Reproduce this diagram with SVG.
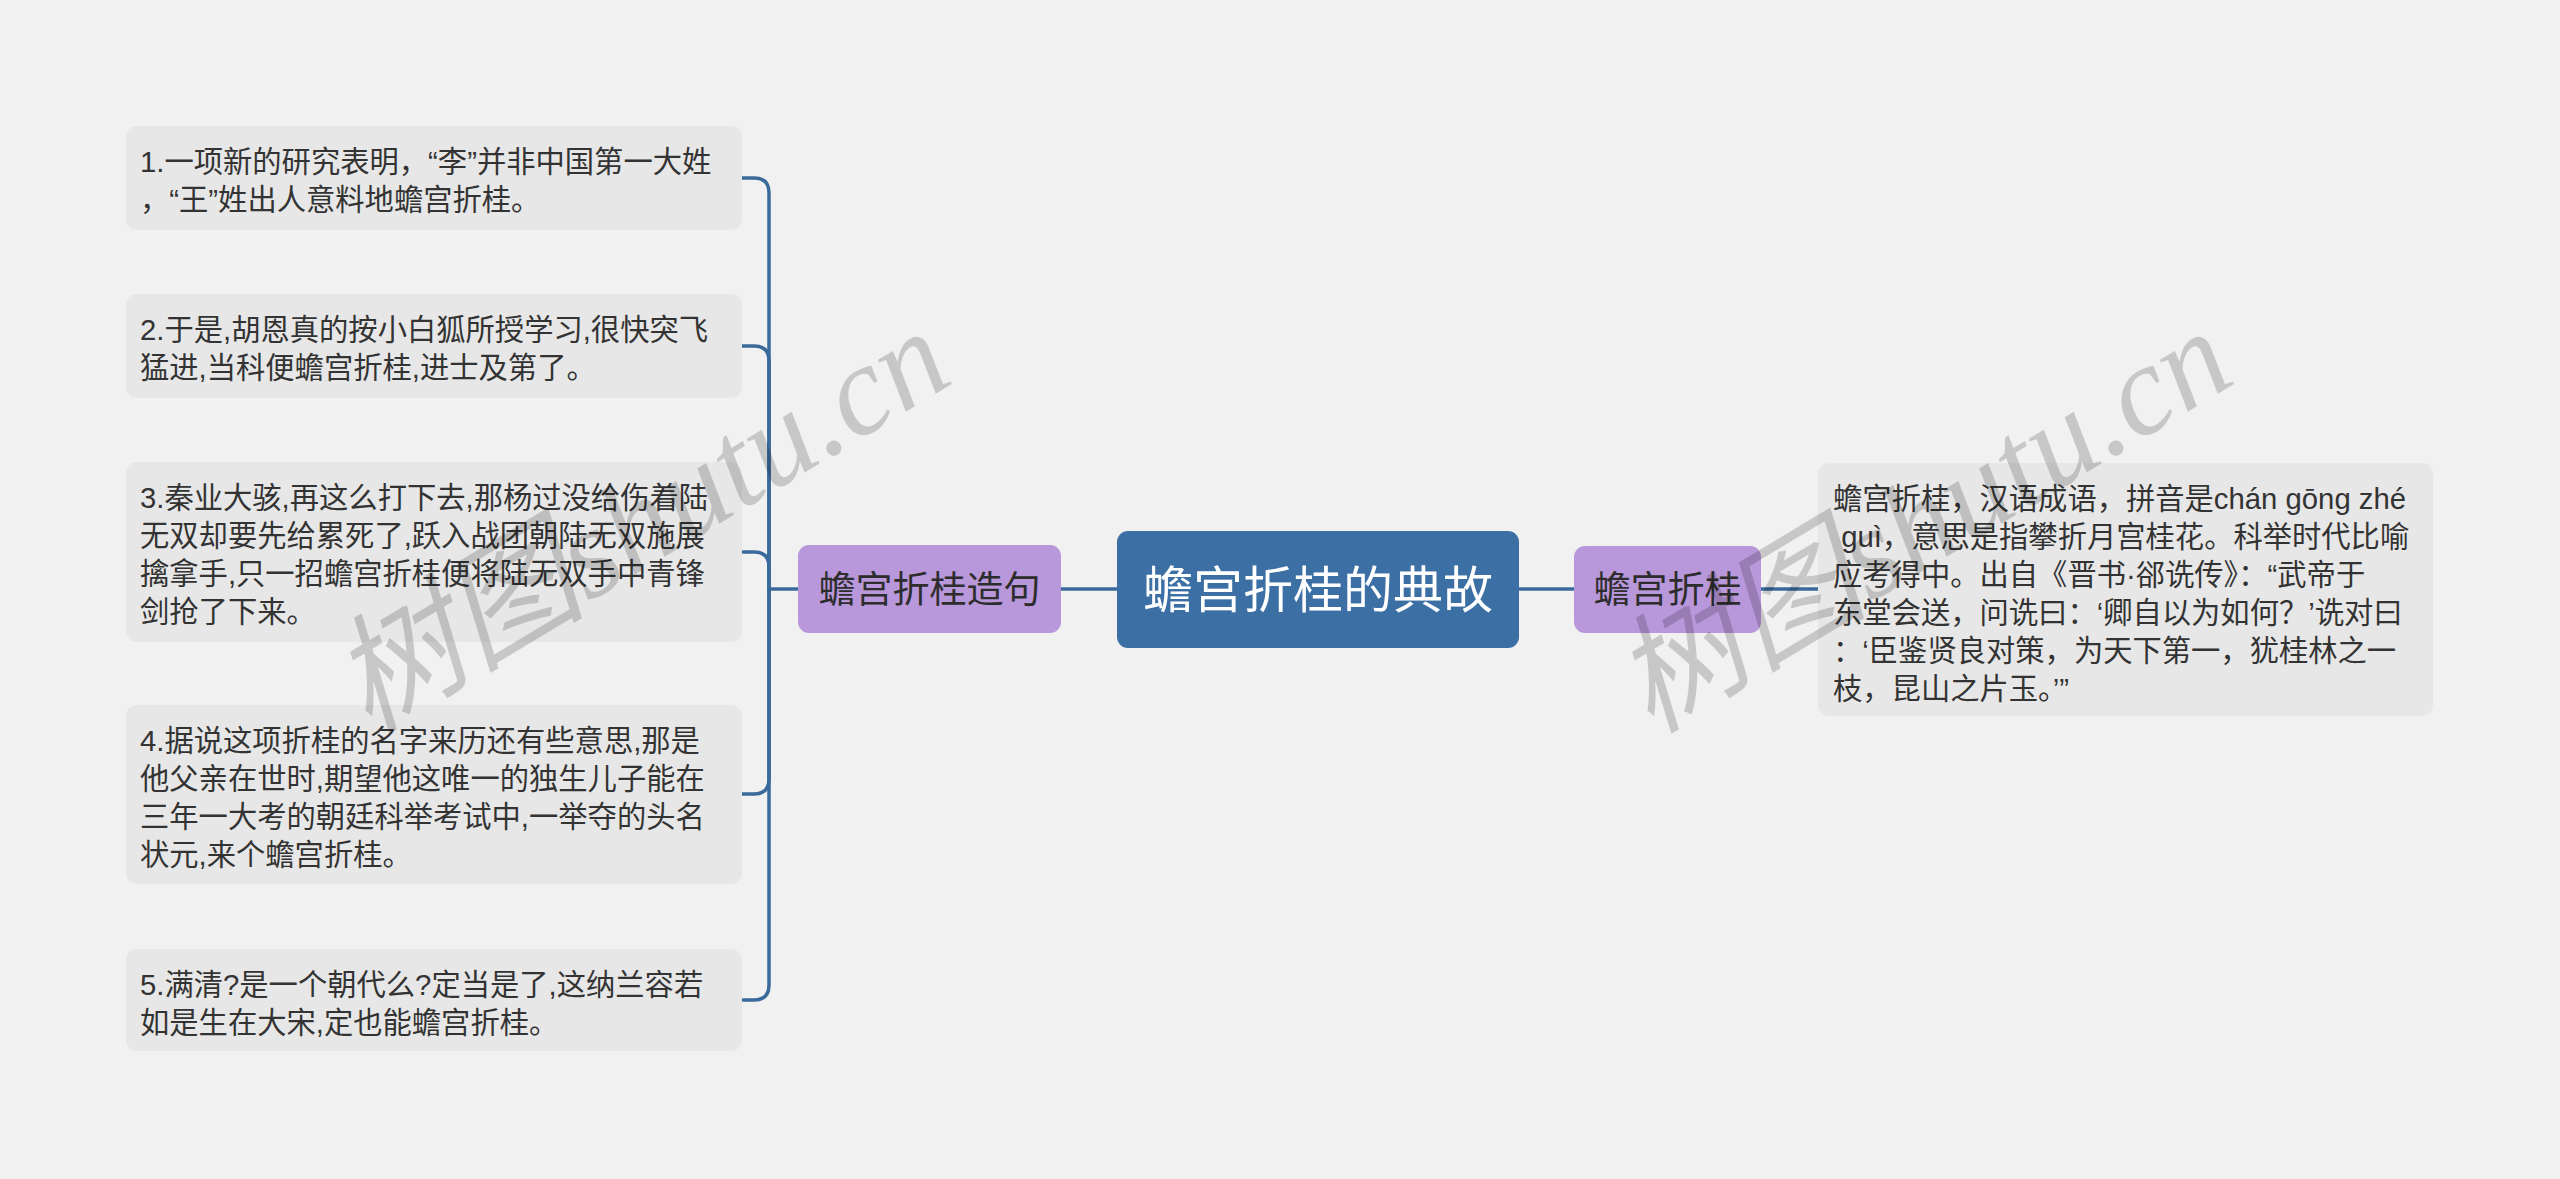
<svg xmlns="http://www.w3.org/2000/svg" width="2560" height="1179" viewBox="0 0 2560 1179">
<style>
.leaf{fill:#e7e7e7}
.lt{font-family:"Liberation Sans","Noto Sans CJK SC",sans-serif;font-size:29.3px;fill:#333}
.sub{fill:#b897da}
.st{font-family:"Liberation Sans","Noto Sans CJK SC",sans-serif;font-size:37px;fill:#2d2d2d;text-anchor:middle}
.ct{font-family:"Liberation Sans","Noto Sans CJK SC",sans-serif;font-size:50px;fill:#ffffff;text-anchor:middle}
.con{fill:none;stroke:#3a6a9c;stroke-width:3.5}
.wm{font-family:"Liberation Serif","Noto Sans CJK SC",serif;font-style:italic;font-size:128px;fill:#000;opacity:0.17;text-anchor:middle}
</style>
<rect x="0" y="0" width="2560" height="1179" fill="#f1f1f1"/>
<g id="connectors">
<path class="con" d="M798 589H769"/>
<path class="con" d="M742 178H754Q769 178 769 193V589"/>
<path class="con" d="M742 346H754Q769 346 769 361V589"/>
<path class="con" d="M742 552H754Q769 552 769 567V589"/>
<path class="con" d="M742 794H754Q769 794 769 779V589"/>
<path class="con" d="M742 1000H754Q769 1000 769 985V589"/>
<path class="con" d="M1061 589H1117"/>
<path class="con" d="M1519 589H1574"/>
<path class="con" d="M1761 589H1818"/>
</g>
<g id="center">
<rect x="1117" y="531" width="402" height="117" rx="11" fill="#3c70a4"/>
<text class="ct" x="1318" y="608">蟾宫折桂的典故</text>
</g>
<g id="sub-left">
<rect class="sub" x="798" y="545" width="263" height="88" rx="11"/>
<text class="st" x="929.5" y="603">蟾宫折桂造句</text>
</g>
<g id="sub-right">
<rect class="sub" x="1574" y="546" width="187" height="87" rx="11"/>
<text class="st" x="1667.5" y="603">蟾宫折桂</text>
</g>
<g id="leaf1">
<rect class="leaf" x="126" y="126" width="616" height="104" rx="11"/>
<text class="lt" x="140"><tspan x="140" y="172">1.一项新的研究表明，“李”并非中国第一大姓</tspan><tspan x="140" y="210">，“王”姓出人意料地蟾宫折桂。</tspan></text>
</g>
<g id="leaf2">
<rect class="leaf" x="126" y="294" width="616" height="104" rx="11"/>
<text class="lt" x="140"><tspan x="140" y="340">2.于是,胡恩真的按小白狐所授学习,很快突飞</tspan><tspan x="140" y="378">猛进,当科便蟾宫折桂,进士及第了。</tspan></text>
</g>
<g id="leaf3">
<rect class="leaf" x="126" y="462" width="616" height="180" rx="11"/>
<text class="lt" x="140"><tspan x="140" y="508">3.秦业大骇,再这么打下去,那杨过没给伤着陆</tspan><tspan x="140" y="546">无双却要先给累死了,跃入战团朝陆无双施展</tspan><tspan x="140" y="584">擒拿手,只一招蟾宫折桂便将陆无双手中青锋</tspan><tspan x="140" y="622">剑抢了下来。</tspan></text>
</g>
<g id="leaf4">
<rect class="leaf" x="126" y="705" width="616" height="179" rx="11"/>
<text class="lt" x="140"><tspan x="140" y="751">4.据说这项折桂的名字来历还有些意思,那是</tspan><tspan x="140" y="789">他父亲在世时,期望他这唯一的独生儿子能在</tspan><tspan x="140" y="827">三年一大考的朝廷科举考试中,一举夺的头名</tspan><tspan x="140" y="865">状元,来个蟾宫折桂。</tspan></text>
</g>
<g id="leaf5">
<rect class="leaf" x="126" y="949" width="616" height="102" rx="11"/>
<text class="lt" x="140"><tspan x="140" y="995">5.满清?是一个朝代么?定当是了,这纳兰容若</tspan><tspan x="140" y="1033">如是生在大宋,定也能蟾宫折桂。</tspan></text>
</g>
<g id="leaf-right">
<rect class="leaf" x="1818" y="463" width="615" height="253" rx="11"/>
<text class="lt" x="1833"><tspan x="1833" y="509">蟾宫折桂，汉语成语，拼音是chán gōng zhé</tspan><tspan x="1833" y="547" xml:space="preserve"> guì，意思是指攀折月宫桂花。科举时代比喻</tspan><tspan x="1833" y="585">应考得中。出自《晋书·郤诜传》：“武帝于</tspan><tspan x="1833" y="623">东堂会送，问诜曰：‘卿自以为如何？’诜对曰</tspan><tspan x="1833" y="661">：‘臣鉴贤良对策，为天下第一，犹桂林之一</tspan><tspan x="1833" y="699">枝，昆山之片玉。’”</tspan></text>
</g>
<g id="watermarks">
<text class="wm" transform="translate(640 520) rotate(-31)" x="0" y="44">树图shutu.cn</text>
<text class="wm" transform="translate(1922 520) rotate(-31)" x="0" y="44">树图shutu.cn</text>
</g>
</svg>
